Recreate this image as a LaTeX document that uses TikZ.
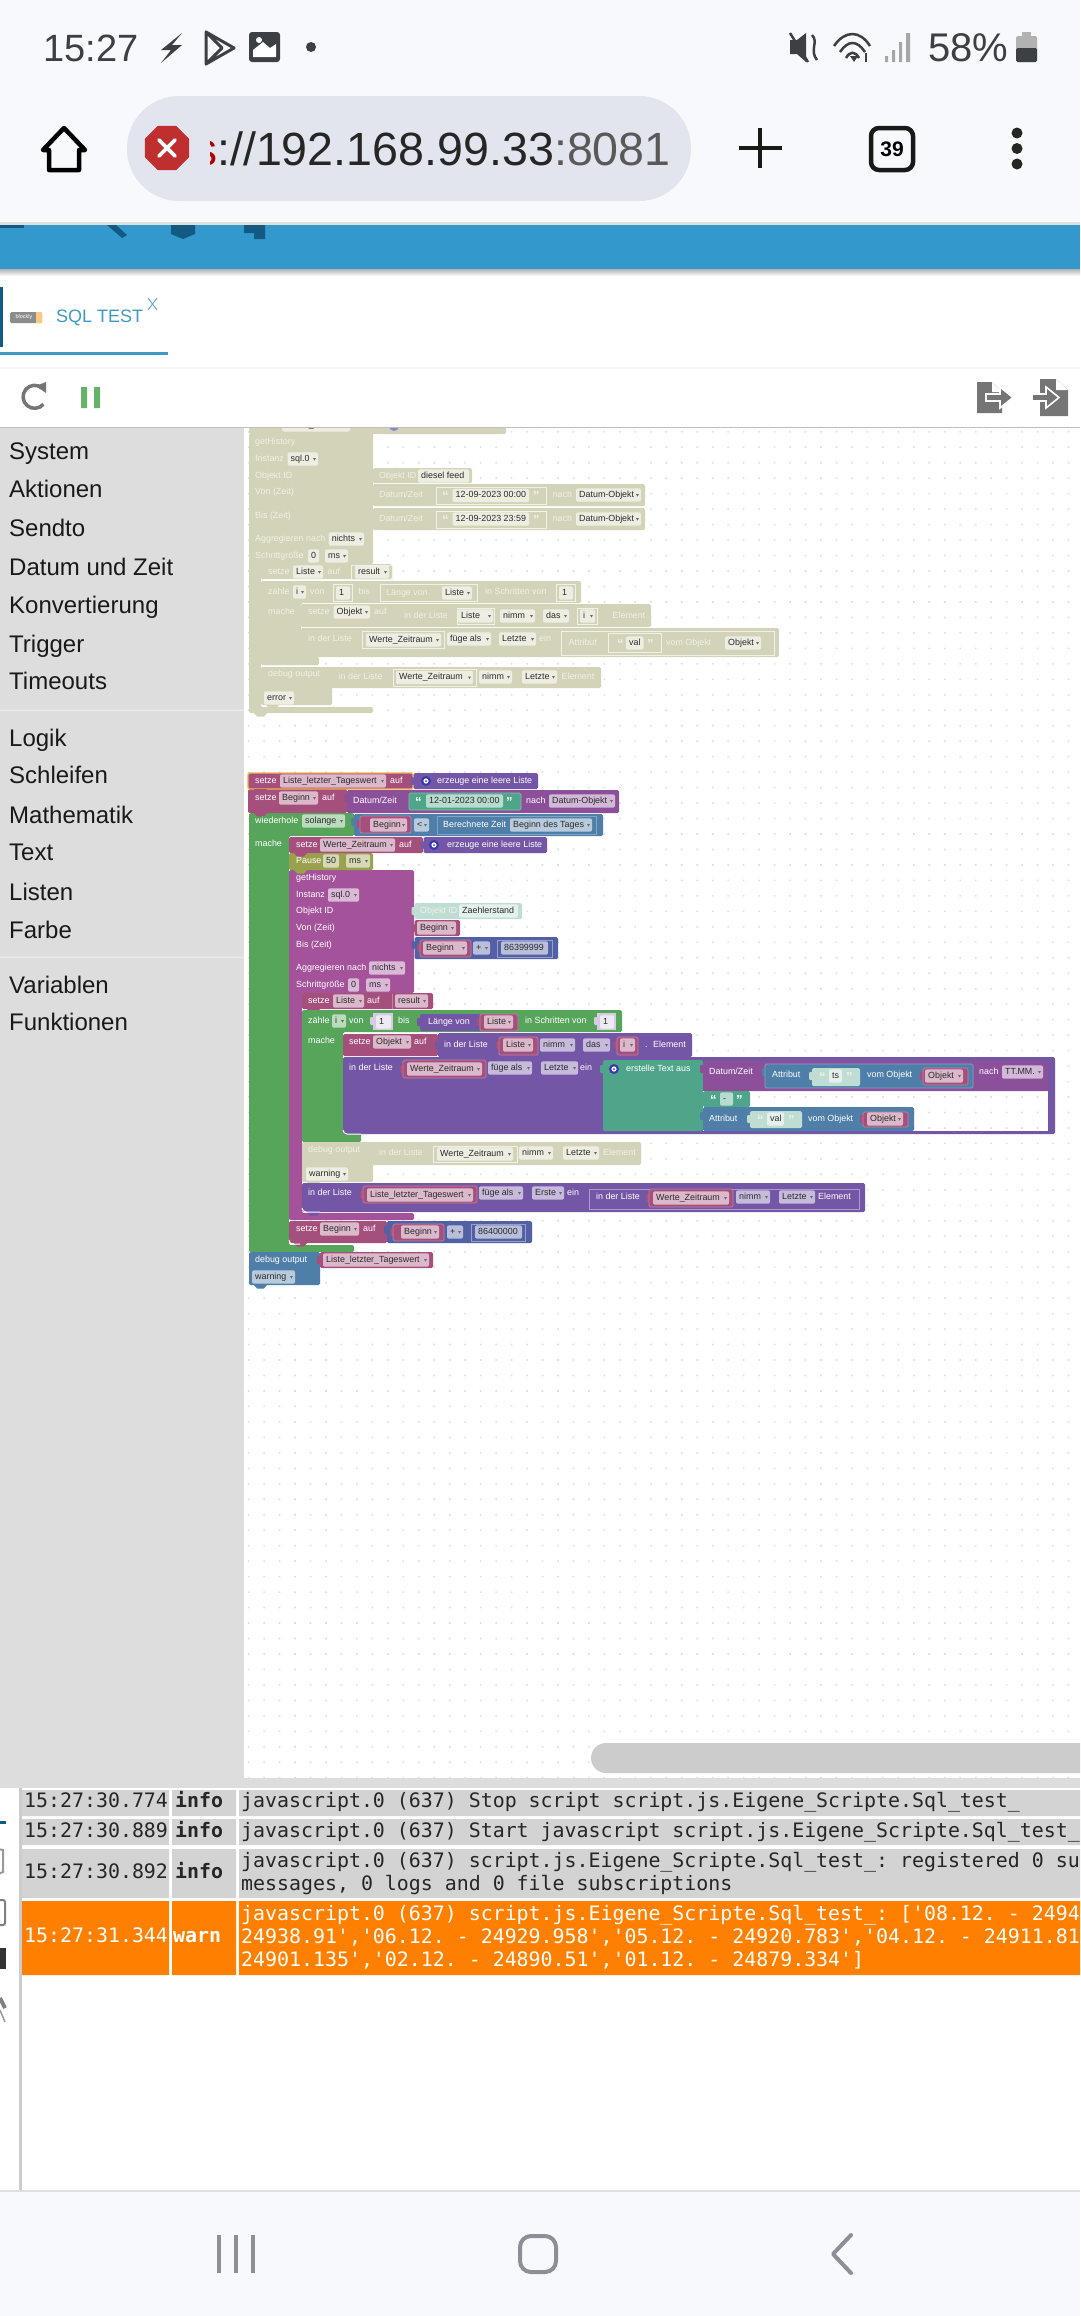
\documentclass[tikz,border=0pt]{standalone}
\usepackage{fontspec}
\setmainfont{Liberation Sans}
\setmonofont{DejaVu Sans Mono}
\definecolor{mar}{HTML}{A5507C}
\definecolor{lpur}{HTML}{7356A5}
\definecolor{dpur}{HTML}{8C509B}
\definecolor{grn}{HTML}{57A55B}
\definecolor{blu}{HTML}{4F7EA8}
\definecolor{ind}{HTML}{5260A5}
\definecolor{teal2}{HTML}{4FA58A}
\definecolor{mag}{HTML}{A4529A}
\definecolor{pau}{HTML}{9AA14C}
\definecolor{ol}{HTML}{D2D3B8}
\definecolor{pteal}{HTML}{BFDDD2}
\definecolor{statusc}{HTML}{3C3F44}
\definecolor{barbg}{HTML}{F8F9FD}
\definecolor{pill}{HTML}{E2E5EE}
\definecolor{redoct}{HTML}{BF2F2F}
\definecolor{barblue}{HTML}{3399CC}
\definecolor{bardark}{HTML}{125A82}
\definecolor{tabblue}{HTML}{3E9AC4}
\definecolor{blockd}{HTML}{2B2B2B}
\definecolor{olt}{HTML}{F1F1E6}
\definecolor{icg}{HTML}{757575}
\definecolor{navg}{HTML}{8C8F95}
\definecolor{orng}{HTML}{FF8000}
\definecolor{rowg}{HTML}{D3D3D3}
\definecolor{sideg}{HTML}{DDDDDD}
\definecolor{dotg}{HTML}{DEDEDE}
\definecolor{selor}{HTML}{F6B24A}
\definecolor{gearb}{HTML}{3A3AB0}
\newcount\nid
\tikzset{
 bl/.style={anchor=west,inner sep=0pt,text height=6.6pt,text depth=2.2pt,font=\fontsize{8.9}{9}\selectfont},
 side/.style={anchor=west,inner sep=0pt,text=black!90,text height=20pt,text depth=2pt,font=\fontsize{24}{24}\selectfont},
 logt/.style={anchor=west,inner sep=0pt,text height=15pt,text depth=4pt,font=\fontsize{19.9}{20}\selectfont\ttfamily},
 big/.style={anchor=base west,inner sep=0pt}
}
% labels
\newcommand\lw[3]{\global\advance\nid by 1 \node[bl,text=white] (n\the\nid) at (#1,#2) {#3};}
\newcommand\lo[3]{\global\advance\nid by 1 \node[bl,text=olt] (n\the\nid) at (#1,#2) {#3};}
\newcommand\ld[3]{\global\advance\nid by 1 \node[bl,text=blockd] (n\the\nid) at ({#1},{#2}) {#3};}
\newcommand\qq[1]{\raisebox{-3.5pt}{\fontsize{13}{9}\selectfont\bfseries #1}}
% fields
\newcommand\fd[4]{\fill[white,fill opacity=.6,rounded corners=2pt] (#1,{#3-6.7}) rectangle (#2,{#3+6.7}); \ld{#1+3}{#3}{#4}}
\newcommand\fa[4]{\fd{#1}{#2}{#3}{#4}\fill[blockd!70] ({#2-5},{#3-1}) -- ({#2-2},{#3-1}) -- ({#2-3.5},{#3+1.5}) -- cycle;}
% blocks
\newcommand\bk[5]{\fill[#1,rounded corners=1.5pt] (#2,#3) rectangle (#4,#5);}
\newcommand\bo[5]{\filldraw[fill=#1,draw=#1!70!white,line width=.7pt,rounded corners=1.5pt] (#2,#3) rectangle (#4,#5);}
\newcommand\cb[9]{\fill[#1,rounded corners=1.5pt] (#2,#3) -- (#4,#3) -- (#4,#5) -- (#6,#5) -- (#6,#7) -- (#8,#7) -- (#8,#9) -- (#2,#9) -- cycle;}
\newcommand\bp[3]{\fill[#1] ({#2+5},#3) -- ({#2+8},{#3+3.5}) -- ({#2+15},{#3+3.5}) -- ({#2+18},#3) -- cycle;}
\newcommand\tb[3]{\fill[#1,rounded corners=1pt] ({#2-2.8},{#3-4}) rectangle ({#2+.5},{#3+4});}
\newcommand\gear[2]{\fill[gearb] (#1,#2) circle (5pt); \fill[white] (#1,#2) circle (2.6pt); \fill[gearb] (#1,#2) circle (1pt);}
\begin{document}
\begin{tikzpicture}[x=1pt,y=-1pt]
\useasboundingbox (0,0) rectangle (1080,2316);
\clip (0,0) rectangle (1080,2316);
\fill[white] (0,0) rectangle (1080,2316);
% ---- status bar and address bar
\fill[barbg] (0,0) rectangle (1080,222);
\fill[black!12] (0,222) rectangle (1080,225);
\node[big,text=statusc,font=\fontsize{38}{38}\selectfont] (clock) at (43,61) {15:27};
\fill[statusc] (182,33) -- (161,50) -- (171,50) -- (161,63) -- (182,45) -- (172,45) -- cycle;
\draw[statusc,line width=3pt,line join=round] (206,32) -- (234,48) -- (206,64) -- cycle (206,32) -- (222,48) -- (206,64);
\fill[statusc,rounded corners=3pt] (249,32) rectangle (280,62);
\fill[white] (253,57) -- (253,50) -- (263,42) -- (270,48) -- (276,44) -- (276,57) -- cycle;
\fill[white] (259,40) circle (3pt);
\fill[statusc] (311,47) circle (5pt);
\fill[statusc] (790,40) -- (797,40) -- (806,33) -- (806,62) -- (797,54) -- (790,54) -- cycle;
\draw[statusc,line width=2.5pt] (790,33) -- (808,62);
\draw[statusc,line width=2.5pt] (812,35) .. controls (819,42) and (809,50) .. (817,60);
\draw[statusc,line width=2.5pt] (834,46) .. controls (845,30) and (860,30) .. (870,46);
\draw[statusc,line width=2.5pt] (840,52) .. controls (848,40) and (857,40) .. (865,52);
\draw[statusc,line width=2.5pt] (846,58) .. controls (850,51) and (855,51) .. (859,58);
\fill[statusc] (854,62) -- (850,56) -- (858,56) -- cycle;
\draw[statusc,line width=2pt] (866,62) -- (866,53);
\fill[black!35] (885,56) rectangle (888,62) (892,50) rectangle (895,62) (899,42) rectangle (902,62) (906,33) rectangle (910,62);
\node[big,text=statusc,font=\fontsize{40}{40}\selectfont] (batt) at (928,61) {58\%};
\fill[black!30,rounded corners=1.5pt] (1016,36) rectangle (1037,62);
\fill[black!30] (1022,32) rectangle (1031,36);
\fill[statusc,rounded corners=1.5pt] (1016,48) rectangle (1037,62);
\fill[pill,rounded corners=52pt] (127,96) rectangle (691,201);
\fill[redoct,shift={(167,148)}] (22.5:24) -- (67.5:24) -- (112.5:24) -- (157.5:24) -- (202.5:24) -- (247.5:24) -- (292.5:24) -- (337.5:24) -- cycle;
\draw[white,line width=3.6pt,line cap=round] (159,140) -- (175,156) (175,140) -- (159,156);
\begin{scope}
\clip (210,120) rectangle (217,180);
\node[anchor=base east,inner sep=0pt,text=red!70!black,font=\fontsize{46}{46}\selectfont] (sch) at (218,165.5) {s};
\end{scope}
\node[big,text=black!85,font=\fontsize{46.6}{47}\selectfont] (url) at (217,165.5) {://192.168.99.33\textcolor{black!65}{:8081}};
\draw[black,line width=4.5pt,line join=round] (64,128) -- (85,150) -- (79,150) -- (79,170) -- (49,170) -- (49,150) -- (43,150) -- cycle;
\draw[black!90,line width=4.5pt] (739,148) -- (782,148) (760,128) -- (760,168);
\draw[black!90,line width=4.5pt,rounded corners=8pt] (871,128) rectangle (913,170);
\node[anchor=center,inner sep=0pt,text=black,font=\fontsize{21}{21}\selectfont\bfseries] (tabs) at (892,149) {39};
\fill[black!85] (1017,133) circle (5.5pt) (1017,148.5) circle (5.5pt) (1017,164) circle (5.5pt);
% ---- blue bar
\fill[barblue] (0,225) rectangle (1080,269);
\fill[bardark] (0,225) rectangle (24,228);
\fill[bardark] (107,225) -- (116,225) -- (127,235) -- (122,238) -- cycle;
\fill[bardark] (171,225) -- (195,225) -- (195,234) -- (183,239) -- (171,234) -- cycle;
\fill[bardark] (244,225) -- (265,225) -- (265,239) -- (254,239) -- (254,233) -- (244,233) -- cycle;
\shade[top color=black!30,bottom color=white] (0,269) rectangle (1080,276);
% ---- tab row
\fill[bardark] (0,287) rectangle (2.5,347);
\fill[black!45,rounded corners=1.5pt] (10,312) rectangle (42,323);
\fill[selor!70] (36,312) rectangle (42,323);
\node[anchor=center,inner sep=0pt,text=white,font=\fontsize{5.5}{6}\selectfont] (blk) at (24,317.5) {blockly};
\node[anchor=west,inner sep=0pt,text=tabblue,font=\fontsize{18}{18}\selectfont] (sqlt) at (56,318) {SQL TEST};
\draw[tabblue!80,line width=1pt] (148,298) -- (157,310) (157,298) -- (148,310);
\fill[tabblue] (0,352) rectangle (168,355);
% ---- toolbar
\fill[black!4] (0,367) rectangle (1080,369);
\draw[icg,line width=3.5pt] (42,388) arc[start angle=-50,end angle=-320,radius=11.5];
\fill[icg] (36,386) -- (46,382) -- (46,393) -- cycle;
\fill[green!50!black!60!white] (81,387) rectangle (87,408) (94,387) rectangle (100,408);
\fill[icg] (977,382) -- (992,382) -- (1002,392) -- (1002,413) -- (977,413) -- cycle;
\fill[white] (992,382) -- (1002,392) -- (992,392) -- cycle;
\filldraw[fill=icg,draw=white,line width=1.6pt] (986,394) -- (1000,394) -- (1000,387) -- (1013,397.5) -- (1000,408) -- (1000,401) -- (986,401) -- cycle;
\fill[icg] (1040,379) -- (1056,379) -- (1068,390) -- (1068,416) -- (1040,416) -- cycle;
\fill[white] (1056,379) -- (1068,390) -- (1056,390) -- cycle;
\filldraw[fill=icg,draw=white,line width=1.6pt] (1032,394) -- (1046,394) -- (1046,387) -- (1059,397.5) -- (1046,408) -- (1046,401) -- (1032,401) -- cycle;
% ---- sidebar and workspace
\fill[sideg] (0,428) rectangle (244,1778);
\fill[black!25] (0,427) rectangle (1080,428);
\fill[white!92!black] (0,709.5) rectangle (244,711) (0,956.5) rectangle (244,958);
\node[side] (s1) at (9,450.6) {System};
\node[side] (s2) at (9,488.6) {Aktionen};
\node[side] (s3) at (9,527.5) {Sendto};
\node[side] (s4) at (9,566.5) {Datum und Zeit};
\node[side] (s5) at (9,604.5) {Konvertierung};
\node[side] (s6) at (9,643) {Trigger};
\node[side] (s7) at (9,680.5) {Timeouts};
\node[side] (s8) at (9,737) {Logik};
\node[side] (s9) at (9,774.5) {Schleifen};
\node[side] (s10) at (9,814) {Mathematik};
\node[side] (s11) at (9,851.5) {Text};
\node[side] (s12) at (9,891) {Listen};
\node[side] (s13) at (9,929) {Farbe};
\node[side] (s14) at (9,984) {Variablen};
\node[side] (s15) at (9,1021.5) {Funktionen};
\begin{scope}
\clip (244,428) rectangle (1080,1778);
\fill[dotg] \foreach \i in {0,...,54} { \foreach \j in {0,...,87} { ({247.8+\i*15.47},{431+\j*15.47}) rectangle ++(1.6,1.6) } };
% ---- disabled (olive) stack
\bk{ol}{249}{400}{360}{434}
\bk{ol}{360}{400}{506}{434}
\fd{282}{350}{425}{Werte\_Zeitraum}
\fill[gearb!60] (394,426) circle (5pt);
\cb{ol}{249}{433}{373}{564}{261}{707}{373}{713}
\bp{ol}{249}{713}
\lo{255}{442}{getHistory}
\lo{255}{459}{Instanz}
\fa{287.5}{318}{459}{sql.0}
\lo{255}{476}{Objekt ID}
\lo{255}{492}{Von (Zeit)}
\lo{255}{516}{Bis (Zeit)}
\lo{255}{539}{Aggregieren nach}
\fa{328.6}{364}{539}{nichts}
\lo{255}{556}{Schrittgröße}
\fd{308}{319}{556}{0}
\fa{325}{348}{556}{ms}
\bk{ol}{373}{468}{472}{483}
\lo{379}{476}{Objekt ID}
\fd{418}{469}{476}{diesel feed}
\bk{ol}{373}{484}{645}{506}
\bk{ol}{373}{508}{645}{530}
\lo{379}{495}{Datum/Zeit}
\lo{379}{519}{Datum/Zeit}
\draw[olt,line width=.6pt] (436,487) rectangle (546,504) (436,511) rectangle (546,528);
\lo{442}{495}{\qq{“}} \lo{533}{495}{\qq{”}}
\lo{442}{519}{\qq{“}} \lo{533}{519}{\qq{”}}
\fd{452.5}{529}{495.5}{12-09-2023 00:00}
\fd{452.5}{529}{519}{12-09-2023 23:59}
\lo{552.5}{495}{nach}
\lo{552.5}{519}{nach}
\fa{576}{641}{495}{Datum-Objekt}
\fa{576}{641}{519}{Datum-Objekt}
\bk{ol}{261}{564}{392}{579}
\lo{268}{572}{setze}
\fa{293}{323}{572}{Liste}
\lo{327.5}{572}{auf}
\fa{355}{389}{572}{result}
\draw[olt,line width=.6pt] (351,565) rectangle (392,579);
\cb{ol}{261}{581}{581}{603}{301}{657}{319}{665}
\lo{268}{592}{zähle}
\fa{293}{306}{592}{i}
\lo{310}{592}{von}
\draw[olt,line width=.6pt] (333,584) rectangle (352,601);
\fd{336}{350}{593}{1}
\lo{358.5}{592}{bis}
\draw[olt,line width=.6pt] (380,584) rectangle (477.5,601);
\lo{386}{593}{Länge von}
\fa{442}{472}{593}{Liste}
\lo{485}{592}{in Schritten von}
\draw[olt,line width=.6pt] (556,584) rectangle (575,601);
\fd{559}{573}{593}{1}
\lo{268}{612}{mache}
\bk{ol}{301}{604}{651}{627}
\lo{308}{612}{setze}
\fa{333.5}{370}{612}{Objekt}
\lo{374}{612}{auf}
\lo{404}{616}{in der Liste}
\fa{458}{493}{616}{Liste}
\fa{500}{535}{616}{nimm}
\fa{543}{569}{616}{das}
\fa{580}{595}{616}{i}
\draw[olt,line width=.6pt] (457,608) rectangle (494,624) (577.5,608) rectangle (597,624);
\lo{612.5}{616}{Element}
\bk{ol}{301}{628}{779}{657}
\lo{308}{639}{in der Liste}
\draw[olt,line width=.6pt] (362,631) rectangle (444,648);
\fa{366}{441}{640}{Werte\_Zeitraum}
\fa{447}{491}{639}{füge als}
\fa{499}{536}{639}{Letzte}
\lo{539}{639}{ein}
\draw[olt,line width=.6pt] (561,631) rectangle (774,655) (608,633) rectangle (661,652);
\lo{568.5}{643}{Attribut}
\lo{617}{643}{\qq{“}} \fd{626}{643.5}{643}{val} \lo{647}{643}{\qq{”}}
\lo{666}{643}{vom Objekt}
\fa{725}{761}{643}{Objekt}
\bk{ol}{261}{667}{601}{688}
\cb{ol}{261}{667}{332}{688}{332}{688}{332}{705}
\lo{268}{674}{debug output}
\lo{338.5}{677}{in der Liste}
\draw[olt,line width=.6pt] (393,669) rectangle (476,686);
\fa{396}{473}{677.5}{Werte\_Zeitraum}
\fa{479}{512}{677}{nimm}
\fa{522}{557}{677}{Letzte}
\lo{561.5}{677}{Element}
\fa{264}{294}{698}{error}
\bp{ol}{261}{705}
% ---- active stack
\cb{grn}{249}{813}{354}{836}{289}{1245}{354}{1252}
\bk{mar}{248}{789}{347}{813}
\bk{dpur}{347}{790}{619}{813}
\filldraw[fill=mar,draw=selor,line width=1.4pt,rounded corners=1.5pt] (248,773) rectangle (413,789);
\bp{mar}{249}{789}
\bp{mar}{249}{813}
\lw{255}{781}{setze}
\fa{280}{386}{781}{Liste\_letzter\_Tageswert}
\lw{390}{781}{auf}
\tb{lpur}{413.5}{781}
\bk{lpur}{413.5}{773}{538}{789}
\gear{426}{781}
\lw{437}{781}{erzeuge eine leere Liste}
\lw{255}{798}{setze}
\fa{279}{318}{798}{Beginn}
\lw{322}{798}{auf}
\tb{dpur}{347}{798}
\lw{353}{801}{Datum/Zeit}
\bo{teal2}{409}{793}{521}{810}
\lw{415}{801}{\qq{“}}
\fd{426}{503}{801}{12-01-2023 00:00}
\lw{506}{801}{\qq{”}}
\lw{526}{801}{nach}
\fa{549}{615}{801}{Datum-Objekt}
\lw{255}{821}{wiederhole}
\fa{302}{345}{821}{solange}
\tb{blu}{354}{822}
\bk{blu}{354}{814}{603}{836}
\tb{mar}{360}{824}
\bo{mar}{360}{816}{411}{833}
\fa{370}{407}{825}{Beginn}
\fa{414}{429}{825}{<}
\tb{blu}{437}{824}
\filldraw[fill=blu,draw=blu!70!white,line width=.7pt] (437,816) rectangle (596,834);
\lw{443}{825}{Berechnete Zeit}
\fa{510}{592}{825}{Beginn des Tages}
\lw{255}{844}{mache}
\bp{grn}{249}{1252}
% getHistory body
\cb{mag}{289}{870}{414}{993}{302}{1213}{414}{1220}
\bk{pau}{289}{853}{373}{870}
\bk{mar}{289}{837}{423}{853}
\bp{mar}{289}{853}
\bp{pau}{289}{870}
\lw{296}{845}{setze}
\fa{320}{395}{845}{Werte\_Zeitraum}
\lw{399}{845}{auf}
\tb{lpur}{423.5}{845}
\bk{lpur}{423.5}{837}{547}{853}
\gear{434}{845}
\lw{447}{845}{erzeuge eine leere Liste}
\lw{296}{861}{Pause}
\fd{323}{339}{861}{50}
\fa{346}{370}{861}{ms}
\lw{296}{878}{getHistory}
\lw{296}{895}{Instanz}
\fa{328}{359}{895}{sql.0}
\lw{296}{911}{Objekt ID}
\lw{296}{928}{Von (Zeit)}
\lw{296}{945}{Bis (Zeit)}
\lw{296}{968}{Aggregieren nach}
\fa{369}{405}{968}{nichts}
\lw{296}{985}{Schrittgröße}
\fd{348}{359}{985}{0}
\fa{366}{390}{985}{ms}
\tb{pteal}{414.5}{911}
\bk{pteal}{414.5}{903}{522}{919}
\lo{420}{911}{Objekt ID}
\fd{459}{518}{911}{Zaehlerstand}
\tb{mar}{414.5}{928}
\bk{mar}{414.5}{920}{460}{936}
\fa{417}{456}{928}{Beginn}
\tb{ind}{414.5}{945}
\bk{ind}{414.5}{937}{558}{959}
\tb{mar}{420}{948}
\bo{mar}{420}{940}{471}{957}
\fa{423}{467}{948}{Beginn}
\fa{473}{490}{948}{+}
\draw[ind!60!white,line width=.7pt] (497,940) rectangle (552,957);
\fd{501}{548}{948}{86399999}
% inner list: setze Liste
\bk{mar}{302}{993}{433}{1009}
\bp{mar}{302}{1009}
\lw{308}{1001}{setze}
\fa{333}{364}{1001}{Liste}
\lw{367}{1001}{auf}
\fa{395}{428}{1001}{result}
\draw[mar!70!white,line width=.7pt] (392,994) -- (392,1009);
% zaehle
\cb{grn}{302}{1010}{622}{1032}{343}{1133}{361}{1142}
\bp{grn}{302}{1142}
\lw{308}{1021}{zähle}
\fa{332}{346}{1021}{i}
\lw{349}{1021}{von}
\tb{lpur!30!white}{373}{1021}
\fill[lpur!30!white] (373,1013) rectangle (393,1030);
\fd{376}{391}{1022}{1}
\lw{398}{1021}{bis}
\tb{lpur}{420}{1022}
\bk{lpur}{420}{1014}{518}{1031}
\lw{428}{1022}{Länge von}
\tb{mar}{480}{1022}
\bo{mar}{480}{1014}{518}{1031}
\fa{484}{513}{1022}{Liste}
\lw{525}{1021}{in Schritten von}
\tb{lpur!30!white}{597}{1021}
\fill[lpur!30!white] (597,1013) rectangle (616,1030);
\fd{600}{614}{1022}{1}
\lw{308}{1041}{mache}
% setze Objekt
\bk{mar}{343}{1034}{438}{1056}
\lw{349}{1042}{setze}
\fa{373}{411}{1042}{Objekt}
\lw{414}{1042}{auf}
\tb{lpur}{438}{1045}
\bk{lpur}{438}{1033}{692}{1057}
\lw{444}{1045}{in der Liste}
\tb{mar}{499}{1045}
\bo{mar}{499}{1037}{538}{1055}
\fa{503}{533}{1045}{Liste}
\fa{540}{575}{1045}{nimm}
\fa{583}{610}{1045}{das}
\tb{mar}{617}{1045}
\bo{mar}{617}{1037}{638}{1055}
\fa{620}{635}{1045}{i}
\lw{645}{1045}{.}
\lw{653}{1045}{Element}
% big list block
\bk{lpur}{343}{1057}{1055}{1134}
\fill[white] (703,1091) rectangle (1048,1131);
\fill[dotg] \foreach \i in {30,...,51} { \foreach \j in {43,...,45} { ({247.8+\i*15.47},{431+\j*15.47}) rectangle ++(1.6,1.6) } };
\lw{349}{1068}{in der Liste}
\tb{mar}{403}{1069}
\bo{mar}{403}{1060}{486}{1078}
\fa{407}{482}{1069}{Werte\_Zeitraum}
\fa{488}{532}{1068}{füge als}
\fa{541}{578}{1068}{Letzte}
\lw{580}{1068}{ein}
\tb{teal2}{603}{1069}
\bk{teal2}{603}{1060}{703}{1131}
\gear{614}{1069}
\lw{626}{1069}{erstelle Text aus}
\tb{dpur}{703}{1069}
\bk{dpur}{703}{1061}{1048}{1091}
\lw{709}{1072}{Datum/Zeit}
\tb{blu}{765}{1072}
\bo{blu}{765}{1064}{973}{1088}
\lw{772}{1075}{Attribut}
\tb{pteal}{812}{1076}
\bk{pteal}{812}{1068}{860}{1086}
\lo{819}{1076}{\qq{“}}
\fd{829}{842}{1076}{ts}
\lo{846}{1076}{\qq{”}}
\lw{867}{1075}{vom Objekt}
\tb{mar}{923}{1076}
\bo{mar}{923}{1068}{968}{1085}
\fa{925}{963}{1076}{Objekt}
\lw{979}{1072}{nach}
\fa{1002}{1043}{1072}{TT.MM.}
\tb{teal2}{703}{1099}
\bk{teal2}{703}{1091}{750}{1107}
\lw{710}{1099}{\qq{“}}
\fd{720}{733}{1099}{-}
\lw{736}{1099}{\qq{”}}
\tb{blu}{703}{1116}
\bk{blu}{703}{1107}{914}{1131}
\lw{709}{1119}{Attribut}
\tb{pteal}{750}{1119}
\bk{pteal}{750}{1111}{802}{1128}
\lo{757}{1119}{\qq{“}}
\fd{767}{784}{1119}{val}
\lo{788}{1119}{\qq{”}}
\lw{808}{1119}{vom Objekt}
\tb{mar}{863}{1119}
\bo{mar}{863}{1112}{908}{1127}
\fa{867}{903}{1119}{Objekt}
\draw[white,line width=1pt] (343,1130) arc[start angle=180,end angle=90,radius=4] -- (361,1134);
% debug pale
\bk{ol}{302}{1142}{641}{1165}
\bk{ol}{302}{1160}{373}{1182}
\lo{308}{1150}{debug output}
\lo{379}{1153}{in der Liste}
\draw[olt,line width=.6pt] (433,1146) rectangle (517,1162);
\fa{437}{513}{1154}{Werte\_Zeitraum}
\fa{519}{553}{1153}{nimm}
\fa{563}{599}{1153}{Letzte}
\lo{603}{1153}{Element}
\fa{306}{348}{1174}{warning}
\bp{ol}{302}{1182}
% list first
\bk{lpur}{302}{1183}{865}{1212}
\lw{308}{1193}{in der Liste}
\tb{mar}{363}{1195}
\bo{mar}{363}{1186}{477}{1203}
\fa{367}{473}{1195}{Liste\_letzter\_Tageswert}
\fa{479}{523}{1193}{füge als}
\fa{532}{564}{1193}{Erste}
\lw{567}{1193}{ein}
\draw[lpur!60!white,line width=.7pt] (589,1189) rectangle (859,1209);
\lw{596}{1197}{in der Liste}
\tb{mar}{649}{1198}
\bo{mar}{649}{1189}{733}{1207}
\fa{653}{729}{1198}{Werte\_Zeitraum}
\fa{736}{770}{1197}{nimm}
\fa{779}{815}{1197}{Letzte}
\lw{818}{1197}{Element}
\bp{lpur}{302}{1212}
\draw[white,line width=1pt] (302,1208) arc[start angle=180,end angle=90,radius=4] -- (320,1212);
% setze Beginn at end
\bk{mar}{289}{1221}{387}{1243}
\bp{mar}{289}{1243}
\lw{296}{1229}{setze}
\fa{320}{359}{1229}{Beginn}
\lw{363}{1229}{auf}
\tb{ind}{387}{1230}
\bk{ind}{387}{1221}{532}{1243}
\tb{mar}{393}{1232}
\bo{mar}{393}{1224}{444}{1241}
\fa{401}{439}{1232}{Beginn}
\fa{447}{463}{1232}{+}
\draw[ind!60!white,line width=.7pt] (471,1224) rectangle (525,1241);
\fd{475}{522}{1232}{86400000}
\draw[white,line width=1pt] (289,1240) arc[start angle=180,end angle=90,radius=4] -- (300,1244);
% debug blue
\bk{blu}{249}{1252}{320}{1285}
\lw{255}{1260}{debug output}
\tb{mar}{320}{1260}
\bk{mar}{320}{1252}{433}{1268}
\fa{323}{429}{1260}{Liste\_letzter\_Tageswert}
\fa{252}{295}{1277}{warning}
\bp{blu}{249}{1285}
% scrollbar
\fill[black!20,rounded corners=15pt] (591,1743) rectangle (1130,1773);
\end{scope}
% ---- log panel
\fill[sideg] (0,1778) rectangle (1080,1788);
\fill[white] (0,1788) rectangle (1080,2190);
\fill[black!20] (19,1788) rectangle (22,2190);
\fill[bardark] (0,1821) rectangle (6,1824);
\draw[black!40,line width=2pt] (-2,1849) -- (3,1850) -- (3,1872) -- (-2,1874);
\draw[black!50,line width=2pt,rounded corners=2pt] (-5,1900) rectangle (5,1925);
\fill[black!80] (0,1948) rectangle (6,1969);
\draw[black!50,line width=4pt] (0,1998) -- (5,2008);
\draw[black!40,line width=1.5pt] (0,2010) -- (5,2022);
\fill[rowg] (22,1790) rectangle (169,1816) (172,1790) rectangle (236,1816) (239,1790) rectangle (1080,1816);
\fill[rowg] (22,1819) rectangle (169,1845) (172,1819) rectangle (236,1845) (239,1819) rectangle (1080,1845);
\fill[rowg] (22,1849) rectangle (169,1898) (172,1849) rectangle (236,1898) (239,1849) rectangle (1080,1898);
\fill[orng] (22,1901) rectangle (169,1975) (172,1901) rectangle (236,1975) (239,1901) rectangle (1080,1975);
\node[logt,text=black!85] (l1a) at (24,1802) {15:27:30.774};
\node[logt,text=black!85] (l1b) at (175,1802) {\bfseries info};
\node[logt,text=black!85] (l1c) at (241,1802) {javascript.0 (637) Stop script script.js.Eigene\_Scripte.Sql\_test\_};
\node[logt,text=black!85] (l2a) at (24,1832) {15:27:30.889};
\node[logt,text=black!85] (l2b) at (175,1832) {\bfseries info};
\node[logt,text=black!85] (l2c) at (241,1832) {javascript.0 (637) Start javascript script.js.Eigene\_Scripte.Sql\_test\_};
\node[logt,text=black!85] (l3a) at (24,1873) {15:27:30.892};
\node[logt,text=black!85] (l3b) at (175,1873) {\bfseries info};
\node[logt,text=black!85] (l3c) at (241,1862) {javascript.0 (637) script.js.Eigene\_Scripte.Sql\_test\_: registered 0 su};
\node[logt,text=black!85] (l3d) at (241,1885) {messages, 0 logs and 0 file subscriptions};
\node[logt,text=white] (l4a) at (24,1937) {15:27:31.344};
\node[logt,text=white] (l4b) at (173,1937) {\bfseries warn};
\node[logt,text=white] (l4c) at (241,1915) {javascript.0 (637) script.js.Eigene\_Scripte.Sql\_test\_: ['08.12. - 2494};
\node[logt,text=white] (l4d) at (241,1938) {24938.91','06.12. - 24929.958','05.12. - 24920.783','04.12. - 24911.81};
\node[logt,text=white] (l4e) at (241,1961) {24901.135','02.12. - 24890.51','01.12. - 24879.334']};
% ---- navigation bar
\fill[black!12] (0,2190) rectangle (1080,2192);
\fill[barbg] (0,2192) rectangle (1080,2316);
\draw[navg,line width=3.5pt] (219,2235) -- (219,2273) (236,2235) -- (236,2273) (253,2235) -- (253,2273);
\draw[navg,line width=4pt,rounded corners=11pt] (520,2236) rectangle (556,2272);
\draw[navg,line width=4pt,line join=round,line cap=round] (851,2235) -- (833,2254) -- (851,2273);
\end{tikzpicture}
\end{document}
